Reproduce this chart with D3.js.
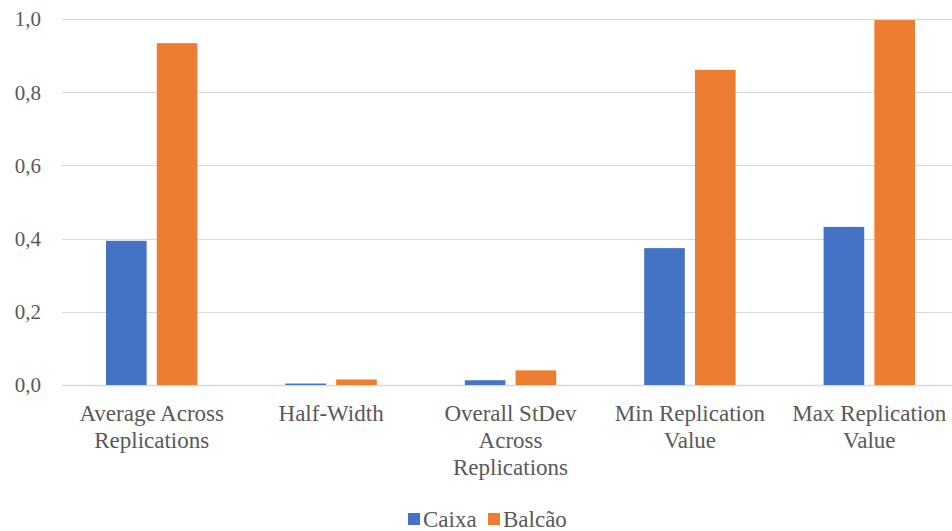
<!DOCTYPE html>
<html>
<head>
<meta charset="utf-8">
<script src="https://cdn.jsdelivr.net/npm/d3@7"></script>
<style>
  html, body { margin: 0; padding: 0; background: #fff; overflow: hidden; }
  svg { display: block; }
</style>
</head>
<body>
<svg id="chart" width="952" height="531"></svg>
<script>
// Statistics summary per replication set
const categories = [
  ["Average Across", "Replications"],
  ["Half-Width"],
  ["Overall StDev", "Across", "Replications"],
  ["Min Replication", "Value"],
  ["Max Replication", "Value"]
];
const seriesNames = ["Caixa", "Balcão"];
const caixa = [0.394, 0.004, 0.013, 0.374, 0.432];
const balcao = [0.934, 0.015, 0.040, 0.861, 0.997];
const yTicks = [0, 0.2, 0.4, 0.6, 0.8, 1.0];
const colors = ["#4472c4", "#ed7d31"];
const FONT = "'Liberation Serif', 'Times New Roman', Tinos, 'DejaVu Serif', serif";
const TEXT_COLOR = "#595959";

const svg = d3.select("#chart").attr("font-family", FONT);
const margin = { left: 62, right: -7, top: 19, bottom: 146 };
const W = 952, H = 531;
const plotW = W - margin.left - margin.right;
const plotH = H - margin.top - margin.bottom;

const g = svg.append("g").attr("transform", `translate(${margin.left},${margin.top})`);

const x0 = d3.scaleBand().domain(d3.range(categories.length)).range([0, plotW]);
const x1 = d3.scaleBand().domain(seriesNames).range([44, x0.bandwidth() - 44]).paddingInner(0.2);
const y = d3.scaleLinear().domain([0, 1]).range([plotH, 0]);

// horizontal gridlines, the zero line doubling as the category axis
g.selectAll("line.grid").data(yTicks).join("line")
  .attr("class", "grid")
  .attr("x1", 0).attr("x2", plotW)
  .attr("y1", d => Math.round(y(d)) + 0.5).attr("y2", d => Math.round(y(d)) + 0.5)
  .attr("stroke", "#d9d9d9").attr("stroke-width", d => d === 0 ? 1.5 : 1.2);

// y tick labels with decimal comma
const fmt = d => d3.format(".1f")(d).replace(".", ",");
g.selectAll("text.ytick").data(yTicks).join("text")
  .attr("class", "ytick")
  .attr("x", -21).attr("y", d => y(d))
  .attr("dy", "0.35em")
  .attr("text-anchor", "end")
  .attr("fill", TEXT_COLOR)
  .attr("font-size", 21)
  .text(fmt);

// grouped bars
const data = categories.map((c, i) => ({ i, values: [caixa[i], balcao[i]] }));
const grp = g.selectAll("g.cat").data(data).join("g")
  .attr("class", "cat")
  .attr("transform", d => `translate(${x0(d.i)},0)`);
grp.selectAll("rect").data(d => d.values.map((v, k) => ({ k, v }))).join("rect")
  .attr("x", d => x1(seriesNames[d.k]))
  .attr("width", x1.bandwidth())
  .attr("y", d => y(d.v))
  .attr("height", d => y(0) - y(d.v))
  .attr("fill", d => colors[d.k]);

// multi-line category labels
const lab = g.selectAll("text.cat").data(categories).join("text")
  .attr("class", "cat")
  .attr("text-anchor", "middle")
  .attr("fill", TEXT_COLOR)
  .attr("font-size", 23)
  .attr("transform", (d, i) => `translate(${x0(i) + x0.bandwidth() / 2},${plotH + 36})`);
lab.selectAll("tspan").data(d => d).join("tspan")
  .attr("x", 0)
  .attr("dy", (d, k) => k === 0 ? 0 : 27)
  .text(d => d);

// legend
const legend = svg.append("g").attr("transform", "translate(408,519)");
const items = [{ name: "Caixa", x: 0 }, { name: "Balcão", x: 80 }];
items.forEach((it, k) => {
  legend.append("rect").attr("x", it.x).attr("y", -6).attr("width", 12).attr("height", 12).attr("fill", colors[k]);
  legend.append("text").attr("x", it.x + 15).attr("y", 0).attr("dy", "0.36em")
    .attr("fill", TEXT_COLOR).attr("font-size", 23).text(it.name);
});
</script>
</body>
</html>
